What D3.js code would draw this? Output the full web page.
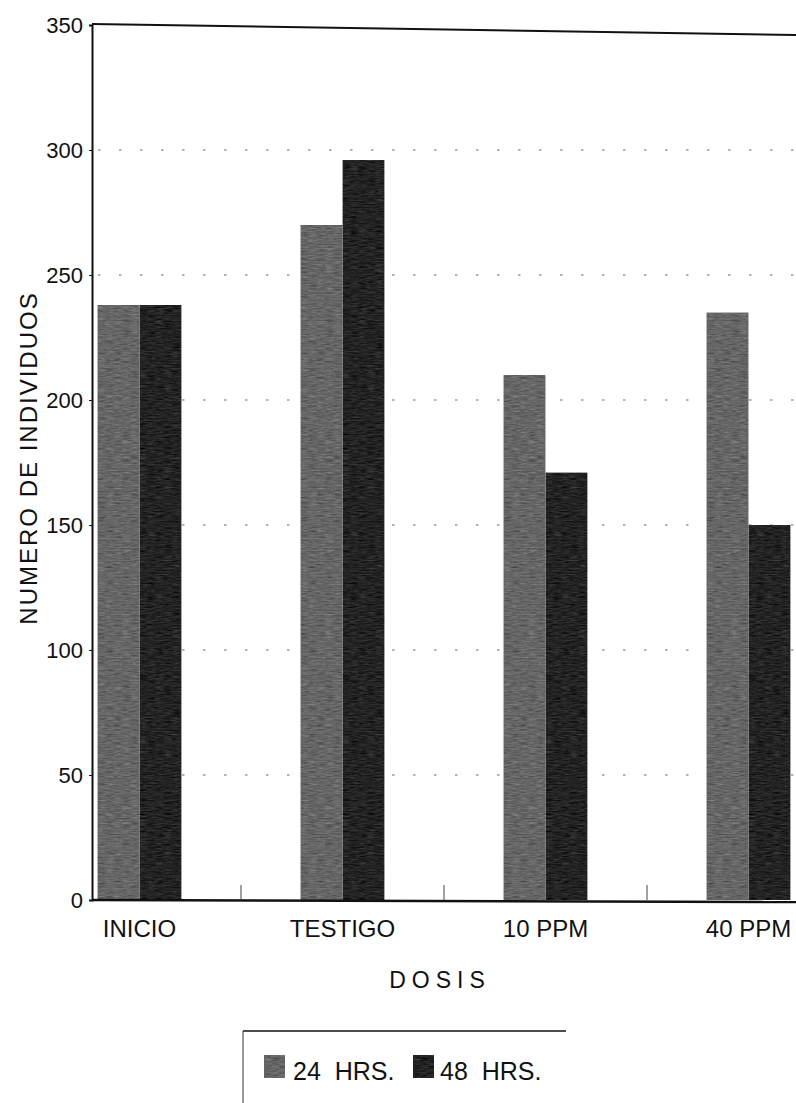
<!DOCTYPE html>
<html lang="es">
<head>
	<meta charset="UTF-8">
	<style>
	body { margin: 0; background: #fff; }
	svg { display: block; font-family: "Liberation Sans", Arial, sans-serif; }
	</style>
	<script src="https://d3js.org/d3.v7.min.js"></script>
	<title>Numero de individuos por dosis</title>
</head>
<body>
	<div id="chart">
		<script>
			// Data
			const categories = ["INICIO", "TESTIGO", "10 PPM", "40 PPM"];
			const seriesNames = ["24  HRS.", "48  HRS."];
			const hrs24 = [238, 270, 210, 235];
			const hrs48 = [238, 296, 171, 150];
			const yTicks = [0, 50, 100, 150, 200, 250, 300, 350];
			const colors = ["#666666", "#232323"];

			const width = 796, height = 1103;
			const svg = d3.select("#chart").append("svg")
				.attr("width", width)
				.attr("height", height);

			// grainy look of the photocopy
			const defs = svg.append("defs");
			const grain = defs.append("filter").attr("id", "grain")
				.attr("x", 0).attr("y", 0).attr("width", 1).attr("height", 1)
				.attr("color-interpolation-filters", "sRGB");
			grain.append("feTurbulence")
				.attr("type", "fractalNoise")
				.attr("baseFrequency", "0.12 0.7")
				.attr("numOctaves", 3)
				.attr("seed", 7)
				.attr("result", "noise");
			grain.append("feColorMatrix")
				.attr("in", "noise")
				.attr("type", "matrix")
				.attr("values", "0.33 0.33 0.33 0 0  0.33 0.33 0.33 0 0  0.33 0.33 0.33 0 0  0 0 0 0 1")
				.attr("result", "grey");
			grain.append("feComposite")
				.attr("in", "SourceGraphic").attr("in2", "grey")
				.attr("operator", "arithmetic")
				.attr("k1", 0).attr("k2", 1).attr("k3", 0.5).attr("k4", -0.25)
				.attr("result", "mixed");
			grain.append("feComposite")
				.attr("in", "mixed").attr("in2", "SourceGraphic")
				.attr("operator", "in");

			const plotLeft = 92, plotRight = 796, plotTop = 25, plotBottom = 900;

			const y = d3.scaleLinear().domain([0, 350]).range([plotBottom, plotTop]);
			const x0 = d3.scaleBand().domain(categories).range([38, 850]);
			const groupW = 84;
			const x1 = d3.scaleBand().domain(seriesNames).range([0, groupW]);

			// dotted grid lines
			svg.append("g")
				.selectAll("line")
				.data(yTicks.filter(d => d > 0 && d < 350))
				.join("line")
				.attr("x1", plotLeft + 6).attr("x2", plotRight)
				.attr("y1", d => y(d)).attr("y2", d => y(d))
				.attr("stroke", "#9a9a9a")
				.attr("stroke-width", 1.3)
				.attr("stroke-dasharray", "2.5 18.5");

			// bars
			const rows = categories.map((c, i) => ({ cat: c, vals: [hrs24[i], hrs48[i]] }));
			svg.append("g")
				.selectAll("g")
				.data(rows)
				.join("g")
				.attr("transform", d => "translate(" + (x0(d.cat) + (x0.bandwidth() - groupW) / 2) + ",0)")
				.selectAll("rect")
				.data(d => d.vals.map((v, k) => ({ key: seriesNames[k], v: v, k: k })))
				.join("rect")
				.attr("x", d => x1(d.key))
				.attr("width", x1.bandwidth())
				.attr("y", d => y(d.v))
				.attr("height", d => y(0) - y(d.v))
				.attr("fill", d => colors[d.k])
				.attr("filter", "url(#grain)");

			// y axis
			const yAxis = svg.append("g")
				.attr("transform", "translate(" + plotLeft + ",0)")
				.call(d3.axisLeft(y).tickValues(yTicks).tickSize(3).tickPadding(6));
			yAxis.select(".domain").attr("stroke", "#111").attr("stroke-width", 2);
			yAxis.selectAll(".tick line").attr("stroke", "#111");
			yAxis.selectAll("text")
				.attr("font-size", 22)
				.attr("fill", "#111")
				.attr("font-family", "Liberation Sans, Arial, sans-serif");

			// frame top (the scan is a little tilted) and baseline
			svg.append("line")
				.attr("x1", plotLeft).attr("x2", plotRight)
				.attr("y1", y(350) - 1).attr("y2", y(350) + 10)
				.attr("stroke", "#111").attr("stroke-width", 2);

			const xAxis = svg.append("g")
				.attr("transform", "translate(0," + plotBottom + ")")
				.call(d3.axisBottom(x0).tickSize(0).tickPadding(20));
			xAxis.select(".domain").remove();
			xAxis.selectAll("text")
				.attr("font-size", 24)
				.attr("fill", "#111")
				.attr("font-family", "Liberation Sans, Arial, sans-serif");
			svg.append("line")
				.attr("x1", plotLeft).attr("x2", plotRight)
				.attr("y1", plotBottom).attr("y2", plotBottom + 2)
				.attr("stroke", "#111").attr("stroke-width", 2.5);

			// category boundary ticks
			svg.append("g")
				.selectAll("line")
				.data(categories.slice(1))
				.join("line")
				.attr("x1", d => x0(d)).attr("x2", d => x0(d))
				.attr("y1", plotBottom - 15).attr("y2", plotBottom)
				.attr("stroke", "#444").attr("stroke-width", 1);

			// axis titles
			svg.append("text")
				.attr("x", 440).attr("y", 988)
				.attr("text-anchor", "middle")
				.attr("font-size", 23)
				.attr("letter-spacing", "6px")
				.attr("fill", "#111")
				.text("DOSIS");
			svg.append("text")
				.attr("transform", "translate(37,458) rotate(-90)")
				.attr("text-anchor", "middle")
				.attr("font-size", 24)
				.attr("letter-spacing", "2px")
				.attr("fill", "#111")
				.text("NUMERO DE INDIVIDUOS");

			// legend
			const legend = svg.append("g");
			legend.append("line")
				.attr("x1", 243).attr("x2", 566)
				.attr("y1", 1031).attr("y2", 1031)
				.attr("stroke", "#111").attr("stroke-width", 1.5);
			legend.append("line")
				.attr("x1", 243).attr("x2", 243)
				.attr("y1", 1031).attr("y2", 1103)
				.attr("stroke", "#333").attr("stroke-width", 1);
			const items = legend.selectAll("g.item")
				.data(seriesNames)
				.join("g")
				.attr("class", "item")
				.attr("transform", (d, i) => "translate(" + (264 + i * 149) + ",1055)");
			items.append("rect")
				.attr("width", 21).attr("height", 23)
				.attr("fill", (d, i) => colors[i])
				.attr("filter", "url(#grain)");
			items.append("text")
				.attr("x", (d, i) => i === 0 ? 29 : 27).attr("y", 25)
				.attr("font-size", 25)
				.attr("fill", "#111")
				.style("white-space", "pre")
				.text(d => d);
		</script>
	</div>
</body>
</html>
